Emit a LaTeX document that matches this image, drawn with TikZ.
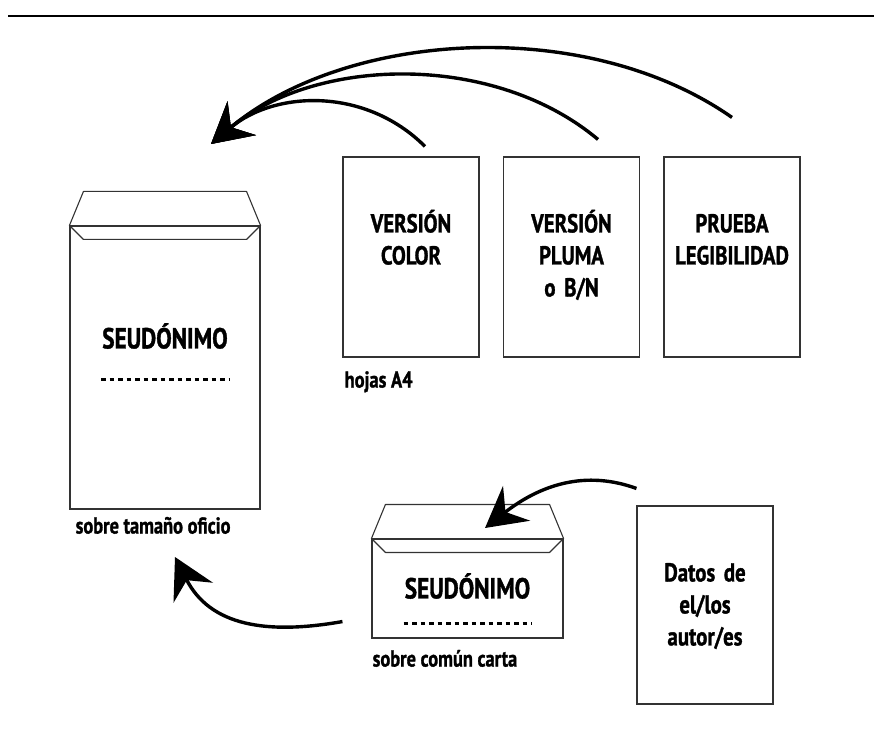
\documentclass[tikz,border=0pt]{standalone}
\usepackage{fontspec}
\setmainfont{PT Sans}[FakeStretch=0.8,BoldFeatures={FakeBold=1.2}]
\usetikzlibrary{arrows.meta}

\begin{document}
\begin{tikzpicture}[x=1pt,y=1pt,
	outline/.style={draw=black!80,line width=1.1pt},
	sheet/.style={outline,minimum width=136pt,minimum height=200pt,inner sep=0pt},
	title/.style={font=\bfseries\fontsize{26}{32}\selectfont,text width=136pt,align=center,anchor=base,inner sep=0pt},
	envname/.style={title,font=\bfseries\fontsize{29}{32}\selectfont,text width=180pt},
	note/.style={font=\bfseries\fontsize{23}{26}\selectfont,anchor=base west,inner sep=0pt},
	dots/.style={line width=3pt,dash pattern=on 4.5pt off 4pt},
	arr/.style={line width=3.4pt,-{Stealth[length=40pt,width=44pt,inset=14pt]}}]
\useasboundingbox (0,0) rectangle (874,740);
% top rule
\coordinate (rulestart) at (8,724);
\coordinate (ruleend) at (874,724);
\draw[line width=2.2pt] (rulestart) -- (ruleend);

% envelopes
\node[outline,inner sep=0pt,minimum width=190pt,minimum height=283pt] (bigenv) at (165,372.5) {};
\node[outline,inner sep=0pt,minimum width=191pt,minimum height=99pt] (smallenv) at (467.5,151.5) {};
\foreach \env in {bigenv,smallenv}
	\draw[outline,line join=round] (\env.north west) -- ++(14,34) -- ([shift={(-14,34)}]\env.north east)
		-- (\env.north east) -- ++(-14,-14) -- ([shift={(14,-14)}]\env.north west) -- cycle;
\node[envname] (bigname) at ([yshift=-123]bigenv.north) {SEUDÓNIMO};
\node[envname] (smallname) at ([yshift=-60]smallenv.north) {SEUDÓNIMO};
\draw[dots] ([shift={(-64,-11.5)}]bigenv.center) -- ([shift={(64,-11.5)}]bigenv.center);
\draw[dots] ([shift={(-64,-34.5)}]smallenv.center) -- ([shift={(64,-34.5)}]smallenv.center);
\node[note] (bignote) at ([shift={(6,-24)}]bigenv.south west) {sobre tamaño oficio};
\node[note] (smallnote) at ([shift={(1,-28)}]smallenv.south west) {sobre común carta};

% A4 sheets
\node[sheet] (color) at (411,483) {};
\node[sheet] (pluma) at (571.5,483) {};
\node[sheet] (prueba) at (732,483) {};
\node[sheet,minimum height=198pt] (datos) at (705,135) {};
\node[title] (colortxt) at ([yshift=-76]color.north) {VERSIÓN\\COLOR};
\node[title] (plumatxt) at ([yshift=-76]pluma.north) {VERSIÓN\\PLUMA\\o B/N};
\node[title] (pruebatxt) at ([yshift=-76]prueba.north) {PRUEBA\\LEGIBILIDAD};
\node[title] (datostxt) at ([yshift=-76]datos.north) {Datos de\\el/los\\autor/es};
\node[note] (a4note) at ([shift={(2,-30)}]color.south west) {hojas A4};

% arrows
\coordinate (tip) at (211,596);
\coordinate (tipsmall) at (485,212);
\coordinate (tipbig) at (175,183);
\draw[arr] ([shift={(14,10)}]color.north) to[out=135,in=40] (tip);
\draw[arr] ([shift={(26.5,17)}]pluma.north) to[out=140,in=40,looseness=0.9] (tip);
\draw[arr] ([yshift=39]prueba.north) to[out=145,in=40,looseness=0.87] (tip);
\draw[arr] ([yshift=17]datos.north west) to[out=160,in=38] (tipsmall);
\draw[arr] ([shift={(-29,17)}]smallenv.south west) to[out=190,in=-63,looseness=1.1] (tipbig);
\end{tikzpicture}
\end{document}
